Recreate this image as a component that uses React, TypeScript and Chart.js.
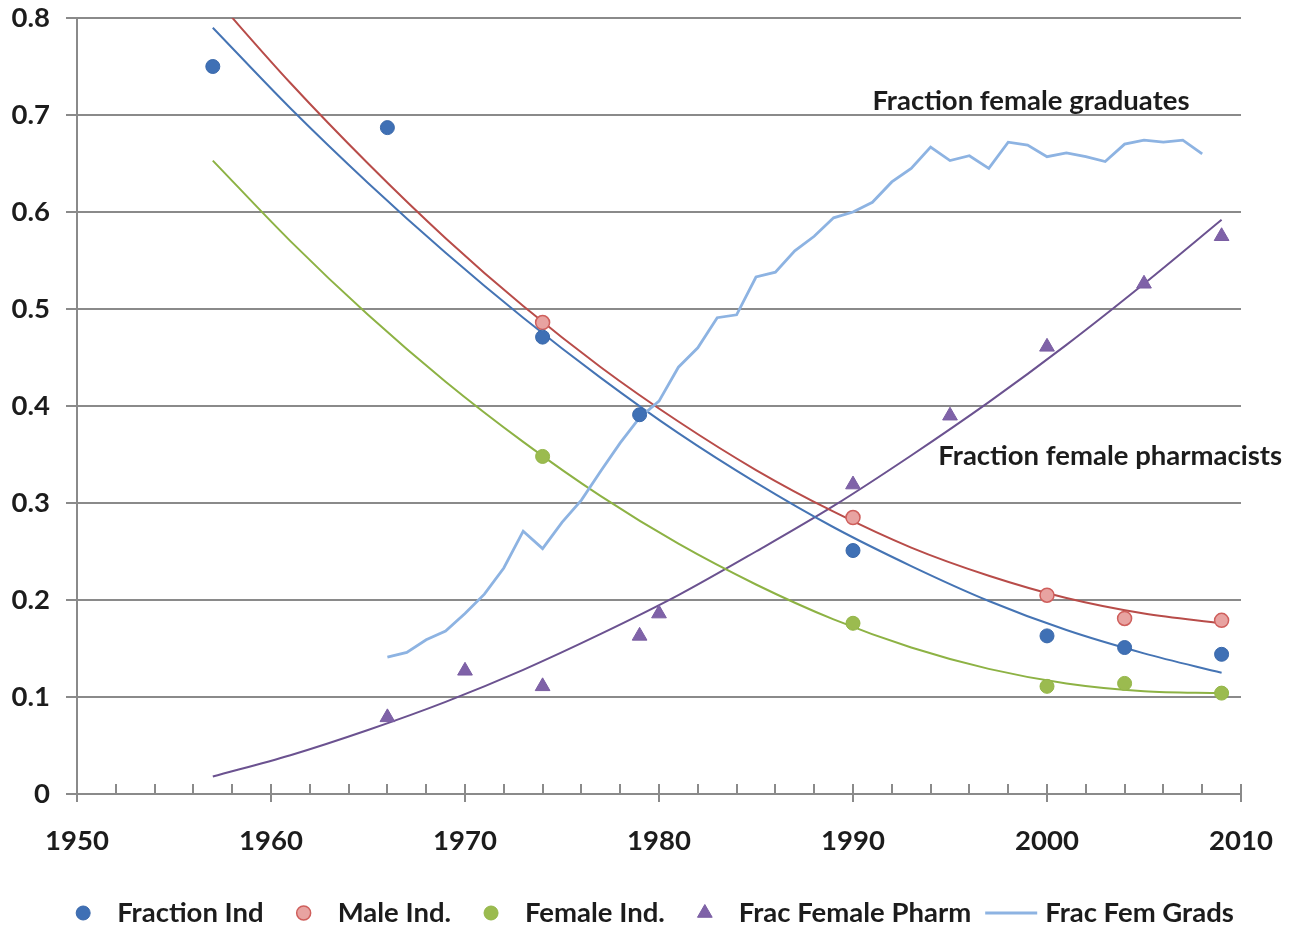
import { useEffect, useRef } from "react";
import { Chart, registerables } from "chart.js";

Chart.register(...registerables);

// ---------- data ----------
const indYears = [1957, 1966, 1974, 1979, 1990, 2000, 2004, 2009];
const fractionInd = [0.75, 0.687, 0.471, 0.391, 0.251, 0.163, 0.151, 0.144];

const sexYears = [1974, 1990, 2000, 2004, 2009];
const maleInd = [0.486, 0.285, 0.205, 0.181, 0.179];
const femaleInd = [0.348, 0.176, 0.111, 0.114, 0.104];

const pharmYears = [1966, 1970, 1974, 1979, 1980, 1990, 1995, 2000, 2005, 2009];
const fracFemalePharm = [0.079, 0.127, 0.111, 0.163, 0.186, 0.319, 0.39, 0.461, 0.526, 0.575];

const gradYears = [
  1966, 1967, 1968, 1969, 1970, 1971, 1972, 1973, 1974, 1975, 1976, 1977, 1978, 1979, 1980,
  1981, 1982, 1983, 1984, 1985, 1986, 1987, 1988, 1989, 1990, 1991, 1992, 1993, 1994, 1995,
  1996, 1997, 1998, 1999, 2000, 2001, 2002, 2003, 2004, 2005, 2006, 2007, 2008,
];
const fracFemGrads = [
  0.141, 0.146, 0.159, 0.168, 0.186, 0.206, 0.233, 0.271, 0.253, 0.28, 0.303, 0.333, 0.362, 0.388, 0.405,
  0.44, 0.46, 0.491, 0.494, 0.533, 0.538, 0.56, 0.575, 0.594, 0.6, 0.61, 0.631, 0.645, 0.667, 0.653,
  0.658, 0.645, 0.672, 0.669, 0.657, 0.661, 0.657, 0.652, 0.67, 0.674, 0.672, 0.674, 0.66,
];

// trendlines
const trendYears = [1957, 1961, 1965, 1969, 1973, 1977, 1981, 1985, 1989, 1993, 1997, 2001, 2005, 2009];
const trendFractionInd = [0.79, 0.707, 0.63, 0.558, 0.491, 0.429, 0.372, 0.321, 0.275, 0.235, 0.199, 0.169, 0.145, 0.125];
const trendMaleInd = [0.823, 0.733, 0.65, 0.573, 0.503, 0.44, 0.384, 0.334, 0.291, 0.254, 0.225, 0.202, 0.186, 0.176];
const trendFemaleInd = [0.653, 0.57, 0.494, 0.425, 0.363, 0.307, 0.258, 0.216, 0.18, 0.151, 0.129, 0.114, 0.106, 0.104];
const trendFracFemalePharm = [0.018, 0.04, 0.066, 0.095, 0.128, 0.165, 0.205, 0.25, 0.297, 0.349, 0.404, 0.463, 0.526, 0.592];

const xMajorTicks = [1950, 1960, 1970, 1980, 1990, 2000, 2010];
const xMinorTicks = [
  1952, 1954, 1956, 1958, 1962, 1964, 1966, 1968, 1972, 1974, 1976, 1978, 1982, 1984, 1986, 1988,
  1992, 1994, 1996, 1998, 2002, 2004, 2006, 2008,
];

const annotationTexts = ["Fraction female graduates", "Fraction female pharmacists"];
const annotationYears = [1991.0, 1994.4];
const annotationValues = [0.705, 0.339];

// ---------- style ----------
const FONT_FAMILY = "Lato";
const FONT_SIZE = 27.5;
const TEXT_COLOR = "#1c1c1c";
const GRID_COLOR = "#8a8a8a";

const pts = (xs: number[], ys: number[]) => xs.map((x, i) => ({ x, y: ys[i] }));

const tickMarksPlugin = {
  id: "tickMarks",
  afterDraw(chart: any) {
    const { ctx, chartArea } = chart;
    const xs = chart.scales.x;
    const y0 = chartArea.bottom;
    ctx.save();
    ctx.strokeStyle = GRID_COLOR;
    ctx.lineWidth = 2;
    ctx.beginPath();
    for (const v of xMinorTicks) {
      const px = Math.round(xs.getPixelForValue(v));
      ctx.moveTo(px, y0 - 10);
      ctx.lineTo(px, y0);
    }
    for (const v of xMajorTicks) {
      const px = Math.round(xs.getPixelForValue(v));
      ctx.moveTo(px, y0 - 10);
      ctx.lineTo(px, y0 + 8);
    }
    ctx.stroke();
    ctx.restore();
  },
};

const annotationPlugin = {
  id: "annotations",
  afterDraw(chart: any) {
    const { ctx } = chart;
    const xs = chart.scales.x;
    const ys = chart.scales.y;
    ctx.save();
    ctx.font = `bold ${FONT_SIZE}px ${FONT_FAMILY}`;
    ctx.fillStyle = TEXT_COLOR;
    ctx.textAlign = "left";
    ctx.textBaseline = "alphabetic";
    annotationTexts.forEach((t, i) => {
      ctx.fillText(t, xs.getPixelForValue(annotationYears[i]), ys.getPixelForValue(annotationValues[i]));
    });
    ctx.restore();
  },
};

const legendPlugin = {
  id: "customLegend",
  afterDraw(chart: any) {
    const { ctx, width } = chart;
    const items = chart.data.datasets.filter((d: any) => d.inLegend);
    ctx.save();
    ctx.font = `bold ${FONT_SIZE}px ${FONT_FAMILY}`;
    const box = 52;
    const gap = 8;
    const spacing = 14;
    const widths = items.map((d: any) => box + gap + ctx.measureText(d.label).width);
    const total = widths.reduce((a: number, b: number) => a + b, 0) + spacing * (items.length - 1);
    let x = (width - total) / 2;
    const cy = 913;
    items.forEach((d: any, i: number) => {
      const cx = x + box / 2;
      ctx.save();
      if (d.legendStyle === "line") {
        ctx.strokeStyle = d.borderColor;
        ctx.lineWidth = d.borderWidth;
        ctx.beginPath();
        ctx.moveTo(x, cy);
        ctx.lineTo(x + box, cy);
        ctx.stroke();
      } else {
        ctx.fillStyle = d.backgroundColor;
        ctx.strokeStyle = d.borderColor;
        ctx.lineWidth = d.borderWidth;
        ctx.beginPath();
        if (d.pointStyle === "triangle") {
          const r = d.pointRadius;
          let rad = 0;
          ctx.moveTo(cx + Math.sin(rad) * r, cy - Math.cos(rad) * r);
          rad += (2 * Math.PI) / 3;
          ctx.lineTo(cx + Math.sin(rad) * r, cy - Math.cos(rad) * r);
          rad += (2 * Math.PI) / 3;
          ctx.lineTo(cx + Math.sin(rad) * r, cy - Math.cos(rad) * r);
          ctx.closePath();
        } else {
          ctx.arc(cx, cy, d.pointRadius, 0, Math.PI * 2);
        }
        ctx.fill();
        if (d.borderWidth) ctx.stroke();
      }
      ctx.restore();
      ctx.fillStyle = TEXT_COLOR;
      ctx.textAlign = "left";
      ctx.textBaseline = "middle";
      ctx.fillText(d.label, x + box + gap, cy);
      x += widths[i] + spacing;
    });
    ctx.restore();
  },
};

export default function App() {
  const ref = useRef<HTMLCanvasElement>(null);

  useEffect(() => {
    const canvas = ref.current!;
    const pointBase = { showLine: false, pointHoverRadius: 7, order: 0, inLegend: true };
    const lineBase = { showLine: true, pointRadius: 0, pointHoverRadius: 0, order: 1, fill: false };
    const chart = new Chart(canvas, {
      type: "scatter",
      data: {
        datasets: [
          {
            ...pointBase,
            label: "Fraction Ind",
            data: pts(indYears, fractionInd),
            backgroundColor: "#3f70b5",
            borderColor: "#3a68aa",
            borderWidth: 1,
            pointRadius: 7,
          },
          {
            ...pointBase,
            label: "Male Ind.",
            data: pts(sexYears, maleInd),
            backgroundColor: "#e8a3a1",
            borderColor: "#cf5f5c",
            borderWidth: 1.5,
            pointRadius: 7,
          },
          {
            ...pointBase,
            label: "Female Ind.",
            data: pts(sexYears, femaleInd),
            backgroundColor: "#9bbb4f",
            borderColor: "#93b548",
            borderWidth: 1,
            pointRadius: 7,
          },
          {
            ...pointBase,
            label: "Frac Female Pharm",
            data: pts(pharmYears, fracFemalePharm),
            pointStyle: "triangle",
            backgroundColor: "#7f62a8",
            borderColor: "#7a5ea2",
            borderWidth: 1,
            pointRadius: 8.5,
          },
          {
            ...lineBase,
            inLegend: true,
            legendStyle: "line",
            label: "Frac Fem Grads",
            data: pts(gradYears, fracFemGrads),
            borderColor: "#8db3e2",
            backgroundColor: "#8db3e2",
            borderWidth: 2.8,
          },
          {
            ...lineBase,
            label: "Trend Fraction Ind",
            data: pts(trendYears, trendFractionInd),
            borderColor: "#4574b4",
            borderWidth: 2,
            cubicInterpolationMode: "monotone",
          },
          {
            ...lineBase,
            label: "Trend Male Ind.",
            data: pts(trendYears, trendMaleInd),
            borderColor: "#b84c49",
            borderWidth: 2,
            cubicInterpolationMode: "monotone",
          },
          {
            ...lineBase,
            label: "Trend Female Ind.",
            data: pts(trendYears, trendFemaleInd),
            borderColor: "#8db244",
            borderWidth: 2,
            cubicInterpolationMode: "monotone",
          },
          {
            ...lineBase,
            label: "Trend Frac Female Pharm",
            data: pts(trendYears, trendFracFemalePharm),
            borderColor: "#6b5290",
            borderWidth: 2,
            cubicInterpolationMode: "monotone",
          },
        ] as any,
      },
      options: {
        responsive: false,
        animation: false,
        devicePixelRatio: 1,
        layout: { padding: { left: 0, right: 50, top: 18, bottom: 0 } },
        plugins: {
          legend: { display: false },
          tooltip: { enabled: false },
        },
        scales: {
          x: {
            type: "linear",
            min: 1950,
            max: 2010,
            afterFit: (s: any) => {
              s.height = 134;
              s.paddingLeft = 0;
              s.paddingRight = 0;
              s.paddingTop = 0;
              s.paddingBottom = 0;
            },
            grid: { display: false, drawTicks: false },
            border: { display: true, color: GRID_COLOR, width: 2 },
            ticks: {
              stepSize: 10,
              padding: 31,
              color: TEXT_COLOR,
              font: { family: FONT_FAMILY, size: FONT_SIZE, weight: "bold" },
              callback: (v: any) => String(v),
              maxRotation: 0,
            },
          },
          y: {
            min: 0,
            max: 0.8,
            afterFit: (s: any) => {
              s.width = 77;
              s.paddingLeft = 0;
              s.paddingRight = 0;
              s.paddingTop = 0;
              s.paddingBottom = 0;
            },
            grid: { color: GRID_COLOR, lineWidth: 2, tickLength: 11, drawTicks: true },
            border: { display: true, color: GRID_COLOR, width: 2 },
            ticks: {
              stepSize: 0.1,
              padding: 16,
              color: TEXT_COLOR,
              font: { family: FONT_FAMILY, size: FONT_SIZE, weight: "bold" },
              callback: (v: any) => (Math.abs(v) < 1e-9 ? "0" : Number(v).toFixed(1)),
            },
          },
        },
      } as any,
      plugins: [tickMarksPlugin, annotationPlugin, legendPlugin],
    });
    if ((document as any).fonts && (document as any).fonts.load) {
      (document as any).fonts.load(`bold ${FONT_SIZE}px ${FONT_FAMILY}`).then(() => chart.update());
    }
    return () => chart.destroy();
  }, []);

  return (
    <div style={{ position: "absolute", left: 0, top: 0, width: 1291, height: 928, background: "#fff" }}>
      <canvas ref={ref} width={1291} height={928} style={{ display: "block", width: 1291, height: 928 }} />
    </div>
  );
}
